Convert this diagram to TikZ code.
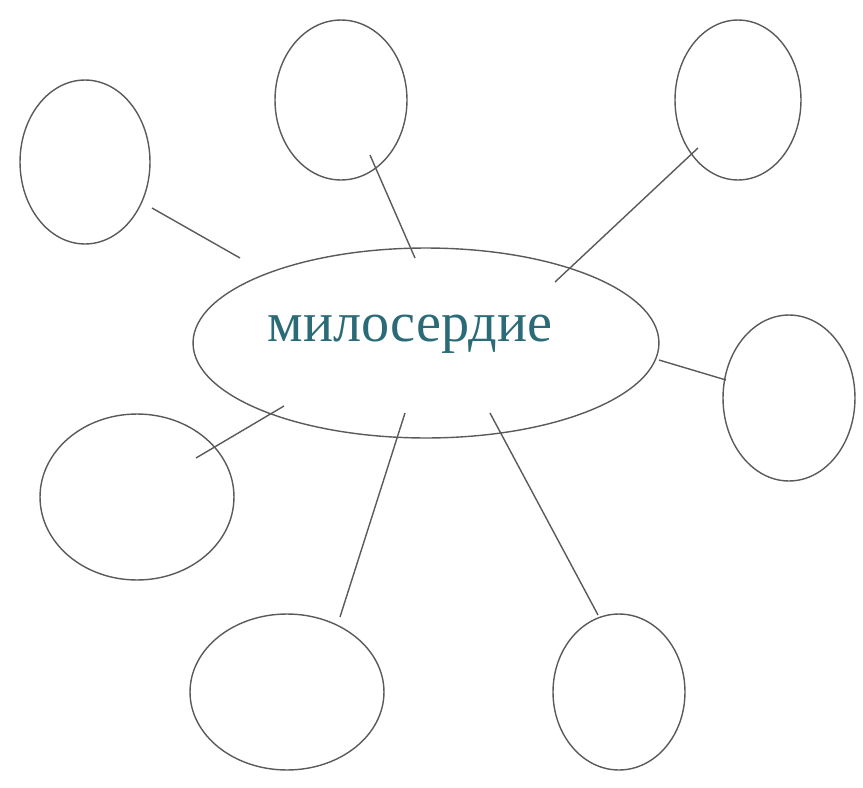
\documentclass[tikz,border=0pt]{standalone}
\usepackage{fontspec}
\setmainfont{Liberation Serif}
\usetikzlibrary{shapes.geometric}
\definecolor{wordc}{HTML}{2B6B78}
\definecolor{linec}{HTML}{5A5A5A}

\begin{document}
\begin{tikzpicture}[x=0.02cm, y=-0.02cm, line width=0.8pt,
      bubble/.style={ellipse, draw=linec, inner sep=0pt}]
    \useasboundingbox (0,0) rectangle (863,788);
    % centre word
    \node[bubble, minimum width=9.32cm, minimum height=3.8cm]
      (c) at (426,343) {};
    \node[text=wordc, font=\fontsize{32}{36}\selectfont]
      (word) at (410,334) {милосердие};
    % empty bubbles around
    \foreach \i/\x/\y/\w/\h in {1/85/162/2.6/3.28, 2/341/100/2.64/3.2,
        3/738/100/2.52/3.2, 4/789/398/2.64/3.32, 5/137/497/3.88/3.32,
        6/287/692/3.88/3.12, 7/619/692/2.64/3.12}{
      \node[bubble, minimum width=\w cm, minimum height=\h cm]
        (e\i) at (\x,\y) {};
    }
    % connectors
    \foreach \i/\ax/\ay/\bx/\by in {1/152/208/240/258, 2/370/155/415/258,
        3/698/148/555/282, 4/726/380/659/360, 5/196/458/284/406,
        6/340/617/405/413, 7/598/615/490/413}{
      \coordinate (a\i) at (\ax,\ay);
      \coordinate (b\i) at (\bx,\by);
      \draw[linec] (a\i) -- (b\i);
    }
  \end{tikzpicture}
\end{document}
